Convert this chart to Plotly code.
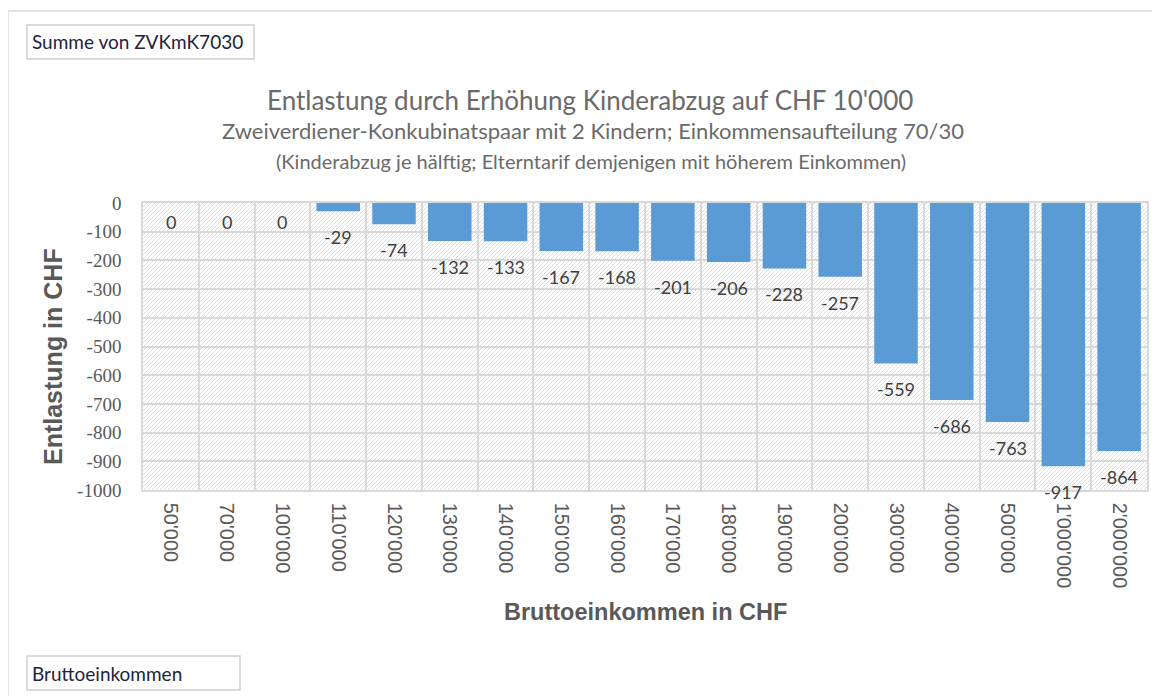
import base64
import plotly.graph_objects as go

# ---- data ----
categories = ["50'000", "70'000", "100'000", "110'000", "120'000", "130'000", "140'000",
              "150'000", "160'000", "170'000", "180'000", "190'000", "200'000", "300'000",
              "400'000", "500'000", "1'000'000", "2'000'000"]
entlastung = [0, 0, 0, -29, -74, -132, -133, -167, -168, -201, -206, -228, -257,
              -559, -686, -763, -917, -864]
y_ticks = list(range(-1000, 1, 100))

title_lines = ["Entlastung durch Erhöhung Kinderabzug auf CHF 10'000",
               "Zweiverdiener-Konkubinatspaar mit 2 Kindern; Einkommensaufteilung 70/30",
               "(Kinderabzug je hälftig; Elterntarif demjenigen mit höherem Einkommen)"]

# ---- layout geometry (page pixels; page body has an 8px margin) ----
OFF = 8
FW, FH = 1160 - OFF, 696 - OFF
L, R, T, B = 143, 1147, 203, 490
W, H = R - L, B - T


def px(p):
    return (p - L) / W


def py(p):
    return (B - p) / H


GRID = "#d9d9d9"
TXT = "#595959"

fig = go.Figure()
fig.add_trace(go.Bar(x=categories, y=entlastung, marker_color="#5B9BD5",
                     marker_line_width=0, hoverinfo="x+y"))

annotations = []
for c, v in zip(categories, entlastung):
    annotations.append(dict(x=c, y=v, xref="x", yref="y", text=str(v), showarrow=False,
                            yshift=-26 if v != 0 else -19,
                            font=dict(family="Lato", size=18, color="#404040")))

# titles
title_specs = [(590, 100, 26), (593, 130, 22), (591, 161, 20)]
for txt, (cx, cy, sz) in zip(title_lines, title_specs):
    annotations.append(dict(x=px(cx), y=py(cy), xref="paper", yref="paper", text=txt,
                            showarrow=False, xanchor="center", yanchor="middle",
                            font=dict(family="Lato", size=sz, color="#6a6a6a")))

# axis titles
annotations.append(dict(x=px(645), y=py(612), xref="paper", yref="paper",
                        text="<b>Bruttoeinkommen in CHF</b>", showarrow=False,
                        xanchor="center", yanchor="middle",
                        font=dict(family="Liberation Sans", size=23.5, color=TXT)))
annotations.append(dict(x=px(53), y=py(357), xref="paper", yref="paper",
                        text="<b>Entlastung in CHF</b>", showarrow=False, textangle=-90,
                        xanchor="center", yanchor="middle",
                        font=dict(family="Liberation Sans", size=25, color=TXT)))

# pivot field buttons
annotations.append(dict(x=px(30), y=py(42), xref="paper", yref="paper",
                        text="Summe von ZVKmK7030", showarrow=False,
                        xanchor="left", yanchor="middle",
                        font=dict(family="Lato", size=19, color="#1c2340")))
annotations.append(dict(x=px(30), y=py(673), xref="paper", yref="paper",
                        text="Bruttoeinkommen", showarrow=False,
                        xanchor="left", yanchor="middle",
                        font=dict(family="Lato", size=19, color="#1c2340")))

shapes = [
    dict(type="rect", xref="paper", yref="paper", x0=px(8), y0=py(11), x1=px(1175), y1=py(720),
         line=dict(color=GRID, width=1.5), fillcolor="rgba(0,0,0,0)", layer="below"),
    dict(type="rect", xref="paper", yref="paper", x0=px(27), y0=py(25), x1=px(254), y1=py(59),
         line=dict(color="#d0d0d0", width=1.5), fillcolor="white"),
    dict(type="rect", xref="paper", yref="paper", x0=px(27), y0=py(656), x1=px(240), y1=py(690),
         line=dict(color="#d0d0d0", width=1.5), fillcolor="white"),
]

svg = ('<svg xmlns="http://www.w3.org/2000/svg" width="%d" height="%d">'
       '<defs><pattern id="p" width="4" height="4" patternUnits="userSpaceOnUse">'
       '<path d="M-1,1 l2,-2 M0,4 l4,-4 M3,5 l2,-2" stroke="#e0e0e0" stroke-width="1"/>'
       '</pattern></defs><rect width="100%%" height="100%%" fill="white"/>'
       '<rect width="100%%" height="100%%" fill="url(#p)"/></svg>') % (W, H)
src = "data:image/svg+xml;base64," + base64.b64encode(svg.encode()).decode()

fig.update_layout(
    width=FW, height=FH,
    margin=dict(l=L - OFF, r=1160 - R, t=T - OFF, b=696 - B, autoexpand=False),
    paper_bgcolor="white", plot_bgcolor="white",
    bargap=0.22, showlegend=False,
    annotations=annotations, shapes=shapes,
    images=[dict(source=src, xref="paper", yref="paper", x=0, y=1, sizex=1, sizey=1,
                 sizing="stretch", xanchor="left", yanchor="top", layer="below")],
    xaxis=dict(type="category", tickson="boundaries", showgrid=True, gridcolor=GRID,
               gridwidth=1.5, showline=True, mirror=True, linecolor=GRID, linewidth=1.5,
               tickangle=90, ticks="", ticklabelstandoff=7,
               tickfont=dict(family="Liberation Sans", size=20, color=TXT)),
    yaxis=dict(range=[-1000, 0], tickvals=y_ticks, ticktext=[str(t) for t in y_ticks],
               showgrid=True, gridcolor=GRID, gridwidth=1.5, zeroline=False,
               showline=True, mirror=True, linecolor=GRID, linewidth=1.5,
               ticks="", ticklabelstandoff=16,
               tickfont=dict(family="Liberation Serif", size=19, color=TXT)),
)

fig.write_html("out.html")
